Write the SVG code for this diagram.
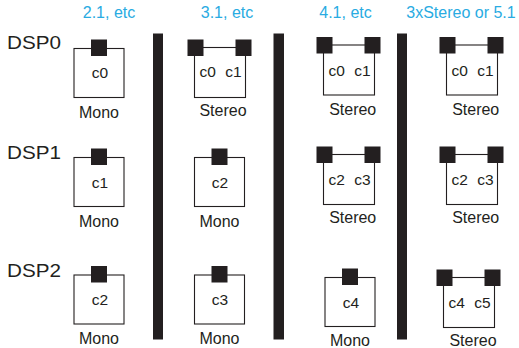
<svg xmlns="http://www.w3.org/2000/svg" width="519" height="348" viewBox="0 0 519 348">
<style>
.t{font-family:"Liberation Sans",Arial,sans-serif;fill:#231f20}
.title{font-family:"Liberation Sans",Arial,sans-serif;font-size:16px;fill:#29abe2;text-anchor:middle}
.dsp{font-size:17.5px}
.lbl{font-size:16px;text-anchor:middle}
.ch{font-size:15.5px;text-anchor:middle}
.box{fill:#fff;stroke:#231f20;stroke-width:1.1}
.sq{fill:#231f20}
.bar{fill:#231f20}
</style>
<defs>
<g id="mono">
<rect class="box" x="0" y="1" width="50" height="49"/>
<rect class="sq" x="17" y="-8" width="16" height="16.5"/>
</g>
<g id="stereo">
<rect class="box" x="7" y="0" width="51" height="50"/>
<rect class="sq" x="0" y="-8" width="16" height="16.5"/>
<rect class="sq" x="48" y="-8" width="16" height="16.5"/>
</g>
</defs>
<rect width="519" height="348" fill="#fff"/>
<g id="titles">
<text class="title" x="109" y="18">2.1, etc</text>
<text class="title" x="227" y="18">3.1, etc</text>
<text class="title" x="345.5" y="18">4.1, etc</text>
<text class="title" x="461" y="18">3xStereo or 5.1</text>
</g>
<g id="dsp-labels">
<text class="t dsp" x="7" y="48.5" textLength="54" lengthAdjust="spacingAndGlyphs">DSP0</text>
<text class="t dsp" x="7" y="159" textLength="54" lengthAdjust="spacingAndGlyphs">DSP1</text>
<text class="t dsp" x="7" y="277" textLength="54" lengthAdjust="spacingAndGlyphs">DSP2</text>
</g>
<g id="separators">
<rect class="bar" x="153" y="33.5" width="10" height="306"/>
<rect class="bar" x="273.5" y="33.5" width="10.5" height="306"/>
<rect class="bar" x="397" y="33.5" width="10" height="306"/>
</g>
<g id="col1-row0"><use href="#mono" x="74" y="47.5"/><text class="t ch" x="100" y="78">c0</text><text class="t lbl" x="99" y="118">Mono</text></g>
<g id="col1-row1"><use href="#mono" x="74" y="156.5"/><text class="t ch" x="100" y="188">c1</text><text class="t lbl" x="99" y="227">Mono</text></g>
<g id="col1-row2"><use href="#mono" x="74" y="274"/><text class="t ch" x="100" y="305">c2</text><text class="t lbl" x="99" y="344">Mono</text></g>
<g id="col2-row0"><use href="#stereo" x="187.5" y="47.5"/><text class="t ch" x="220.5" y="77" word-spacing="5">c0 c1</text><text class="t lbl" x="223" y="116">Stereo</text></g>
<g id="col2-row1"><use href="#mono" x="194.5" y="156.5"/><text class="t ch" x="220" y="188">c2</text><text class="t lbl" x="219.5" y="227">Mono</text></g>
<g id="col2-row2"><use href="#mono" x="194.5" y="274"/><text class="t ch" x="220" y="305">c3</text><text class="t lbl" x="219.5" y="344">Mono</text></g>
<g id="col3-row0"><use href="#stereo" x="316.5" y="45"/><text class="t ch" x="349.5" y="76" word-spacing="5">c0 c1</text><text class="t lbl" x="352.7" y="115">Stereo</text></g>
<g id="col3-row1"><use href="#stereo" x="316.5" y="154.5"/><text class="t ch" x="349.5" y="185" word-spacing="5">c2 c3</text><text class="t lbl" x="352.7" y="222.7">Stereo</text></g>
<g id="col3-row2"><use href="#mono" x="325" y="276.5"/><text class="t ch" x="351" y="308">c4</text><text class="t lbl" x="350" y="346">Mono</text></g>
<g id="col4-row0"><use href="#stereo" x="439.5" y="45"/><text class="t ch" x="472.5" y="76" word-spacing="5">c0 c1</text><text class="t lbl" x="475.7" y="115">Stereo</text></g>
<g id="col4-row1"><use href="#stereo" x="439.5" y="154.5"/><text class="t ch" x="472.5" y="185" word-spacing="5">c2 c3</text><text class="t lbl" x="475.7" y="222.7">Stereo</text></g>
<g id="col4-row2"><use href="#stereo" x="436.5" y="277.5"/><text class="t ch" x="469.5" y="308" word-spacing="5">c4 c5</text><text class="t lbl" x="473" y="346">Stereo</text></g>
</svg>
